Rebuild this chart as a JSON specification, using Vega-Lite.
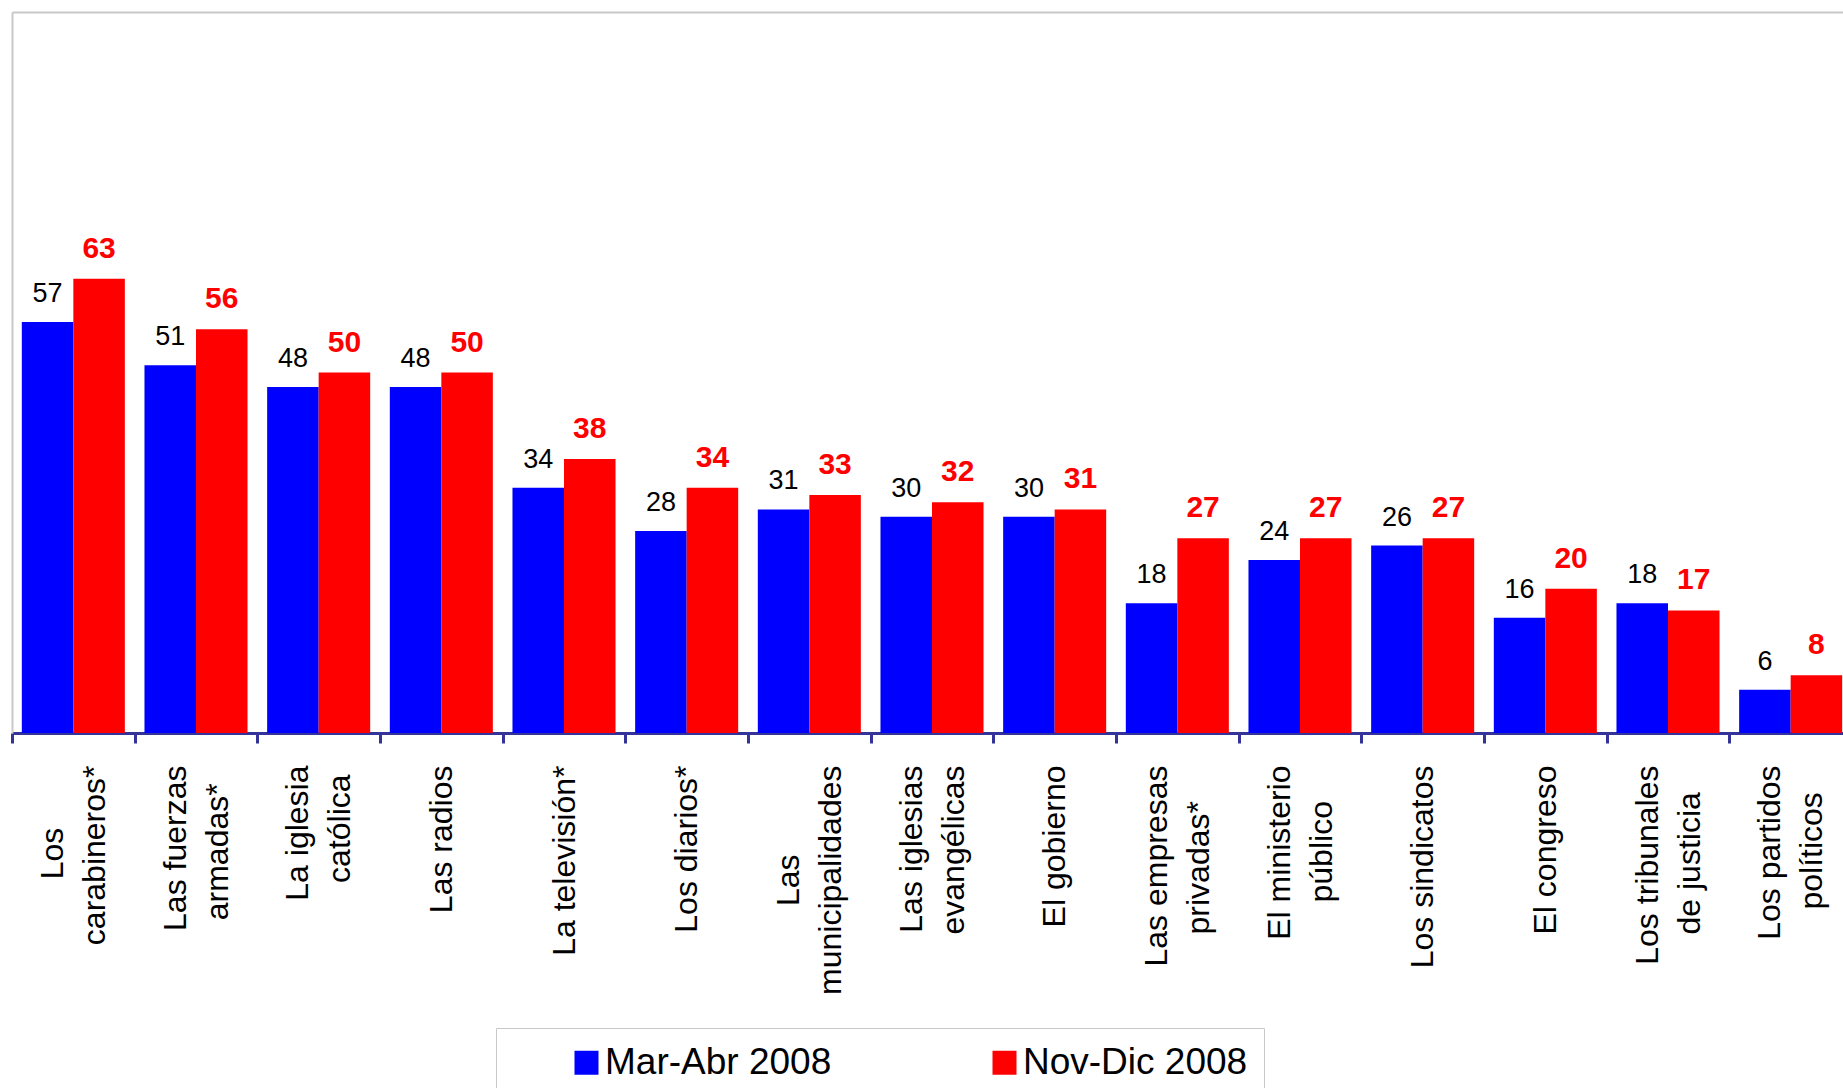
{
  "$schema": "https://vega.github.io/schema/vega-lite/v6.json",
  "width": 1831,
  "height": 721,
  "autosize": {"type": "none"},
  "padding": {"left": 12, "top": 12, "right": 0, "bottom": 355},
  "background": "white",
  "config": {
    "view": {"stroke": null},
    "font": "Liberation Sans",
    "text": {"font": "Liberation Sans"}
  },
  "data": {
    "values": [
      {"institucion": "Los carabineros*", "periodo": "Mar-Abr 2008", "valor": 57},
      {"institucion": "Los carabineros*", "periodo": "Nov-Dic 2008", "valor": 63},
      {"institucion": "Las fuerzas armadas*", "periodo": "Mar-Abr 2008", "valor": 51},
      {"institucion": "Las fuerzas armadas*", "periodo": "Nov-Dic 2008", "valor": 56},
      {"institucion": "La iglesia católica", "periodo": "Mar-Abr 2008", "valor": 48},
      {"institucion": "La iglesia católica", "periodo": "Nov-Dic 2008", "valor": 50},
      {"institucion": "Las radios", "periodo": "Mar-Abr 2008", "valor": 48},
      {"institucion": "Las radios", "periodo": "Nov-Dic 2008", "valor": 50},
      {"institucion": "La televisión*", "periodo": "Mar-Abr 2008", "valor": 34},
      {"institucion": "La televisión*", "periodo": "Nov-Dic 2008", "valor": 38},
      {"institucion": "Los diarios*", "periodo": "Mar-Abr 2008", "valor": 28},
      {"institucion": "Los diarios*", "periodo": "Nov-Dic 2008", "valor": 34},
      {"institucion": "Las municipalidades", "periodo": "Mar-Abr 2008", "valor": 31},
      {"institucion": "Las municipalidades", "periodo": "Nov-Dic 2008", "valor": 33},
      {"institucion": "Las iglesias evangélicas", "periodo": "Mar-Abr 2008", "valor": 30},
      {"institucion": "Las iglesias evangélicas", "periodo": "Nov-Dic 2008", "valor": 32},
      {"institucion": "El gobierno", "periodo": "Mar-Abr 2008", "valor": 30},
      {"institucion": "El gobierno", "periodo": "Nov-Dic 2008", "valor": 31},
      {"institucion": "Las empresas privadas*", "periodo": "Mar-Abr 2008", "valor": 18},
      {"institucion": "Las empresas privadas*", "periodo": "Nov-Dic 2008", "valor": 27},
      {"institucion": "El ministerio público", "periodo": "Mar-Abr 2008", "valor": 24},
      {"institucion": "El ministerio público", "periodo": "Nov-Dic 2008", "valor": 27},
      {"institucion": "Los sindicatos", "periodo": "Mar-Abr 2008", "valor": 26},
      {"institucion": "Los sindicatos", "periodo": "Nov-Dic 2008", "valor": 27},
      {"institucion": "El congreso", "periodo": "Mar-Abr 2008", "valor": 16},
      {"institucion": "El congreso", "periodo": "Nov-Dic 2008", "valor": 20},
      {"institucion": "Los tribunales de justicia", "periodo": "Mar-Abr 2008", "valor": 18},
      {"institucion": "Los tribunales de justicia", "periodo": "Nov-Dic 2008", "valor": 17},
      {"institucion": "Los partidos políticos", "periodo": "Mar-Abr 2008", "valor": 6},
      {"institucion": "Los partidos políticos", "periodo": "Nov-Dic 2008", "valor": 8}
    ]
  },
  "encoding": {
    "x": {
      "field": "institucion",
      "type": "nominal",
      "sort": null,
      "scale": {"range": [0, 1840], "paddingInner": 0.16, "paddingOuter": 0.08}
    },
    "xOffset": {
      "field": "periodo",
      "type": "nominal",
      "scale": {"domain": ["Mar-Abr 2008", "Nov-Dic 2008"], "paddingInner": 0, "paddingOuter": 0}
    },
    "y": {
      "field": "valor",
      "type": "quantitative",
      "scale": {"domain": [0, 100], "nice": false},
      "axis": {
        "title": null,
        "labels": false,
        "ticks": false,
        "grid": false,
        "domainColor": "#c8c8c8",
        "domainWidth": 2
      }
    }
  },
  "layer": [
    {
      "mark": {"type": "bar"},
      "encoding": {
        "x": {
          "field": "institucion",
          "type": "nominal",
          "sort": null,
          "scale": {"range": [0, 1840], "paddingInner": 0.16, "paddingOuter": 0.08},
          "axis": {
            "title": null,
            "orient": "bottom",
            "domainColor": "#333399",
            "domainWidth": 3,
            "tickColor": "#333399",
            "tickWidth": 3,
            "tickSize": 10,
            "bandPosition": 0,
            "tickOffset": -9.8,
            "labelAngle": -90,
            "labelAlign": "right",
            "labelBaseline": "middle",
            "labelFontSize": 32,
            "labelLineHeight": 42,
            "labelColor": "black",
            "labelPadding": 22,
            "labelLimit": 0,
            "labelOffset": {"condition": {"test": "length(datum.value) > 14", "value": -11.2}, "value": 9.8},
            "labelFont": "Liberation Sans",
            "labelExpr": "({'Los carabineros*':['Los\u00a0\u00a0\u00a0\u00a0\u00a0\u00a0\u00a0\u200b','carabineros*'],'Las fuerzas armadas*':['Las fuerzas','armadas*\u00a0\u00a0\u200b'],'La iglesia católica':['La iglesia','católica\u00a0\u200b'],'Las municipalidades':['Las\u00a0\u00a0\u00a0\u00a0\u00a0\u00a0\u00a0\u00a0\u00a0\u00a0\u200b','municipalidades'],'Las iglesias evangélicas':['Las iglesias','evangélicas'],'Las empresas privadas*':['Las empresas','privadas*\u00a0\u00a0\u00a0\u00a0\u200b'],'El ministerio público':['El ministerio','público\u00a0\u00a0\u00a0\u00a0\u200b'],'Los tribunales de justicia':['Los tribunales','de justicia\u00a0\u00a0\u00a0\u200b'],'Los partidos políticos':['Los partidos','políticos\u00a0\u00a0\u00a0\u200b']})[datum.value] || datum.value"
          }
        },
        "color": {
          "field": "periodo",
          "type": "nominal",
          "scale": {"domain": ["Mar-Abr 2008", "Nov-Dic 2008"], "range": ["#0000ff", "#ff0000"]},
          "legend": {
            "title": null,
            "orient": "none",
            "legendX": 484,
            "legendY": 1016,
            "direction": "horizontal",
            "symbolType": "square",
            "symbolSize": 576,
            "symbolStrokeWidth": 0,
            "symbolOffset": 56,
            "labelOffset": 0,
            "columnPadding": 98,
            "labelFontSize": 37,
            "labelFont": "Liberation Sans",
            "labelColor": "black",
            "labelLimit": 0,
            "padding": 16,
            "fillColor": "white",
            "strokeColor": "#c8c8c8"
          }
        }
      }
    },
    {
      "transform": [{"filter": "datum.periodo == 'Mar-Abr 2008'"}],
      "mark": {"type": "text", "color": "black", "fontSize": 27, "baseline": "alphabetic", "dy": -20, "font": "Liberation Sans"},
      "encoding": {
        "x": {"field": "institucion", "type": "nominal", "sort": null, "axis": null},
        "text": {"field": "valor", "type": "quantitative"}
      }
    },
    {
      "transform": [{"filter": "datum.periodo == 'Nov-Dic 2008'"}],
      "mark": {"type": "text", "color": "#ff0000", "fontSize": 30, "fontWeight": "bold", "baseline": "alphabetic", "dy": -21, "font": "Liberation Sans"},
      "encoding": {
        "x": {
          "field": "institucion",
          "type": "nominal",
          "sort": null,
          "axis": {
            "orient": "top",
            "title": null,
            "labels": false,
            "ticks": false,
            "grid": false,
            "domainColor": "#c8c8c8",
            "domainWidth": 2
          }
        },
        "text": {"field": "valor", "type": "quantitative"}
      }
    }
  ],
  "resolve": {"axis": {"x": "independent"}}
}
